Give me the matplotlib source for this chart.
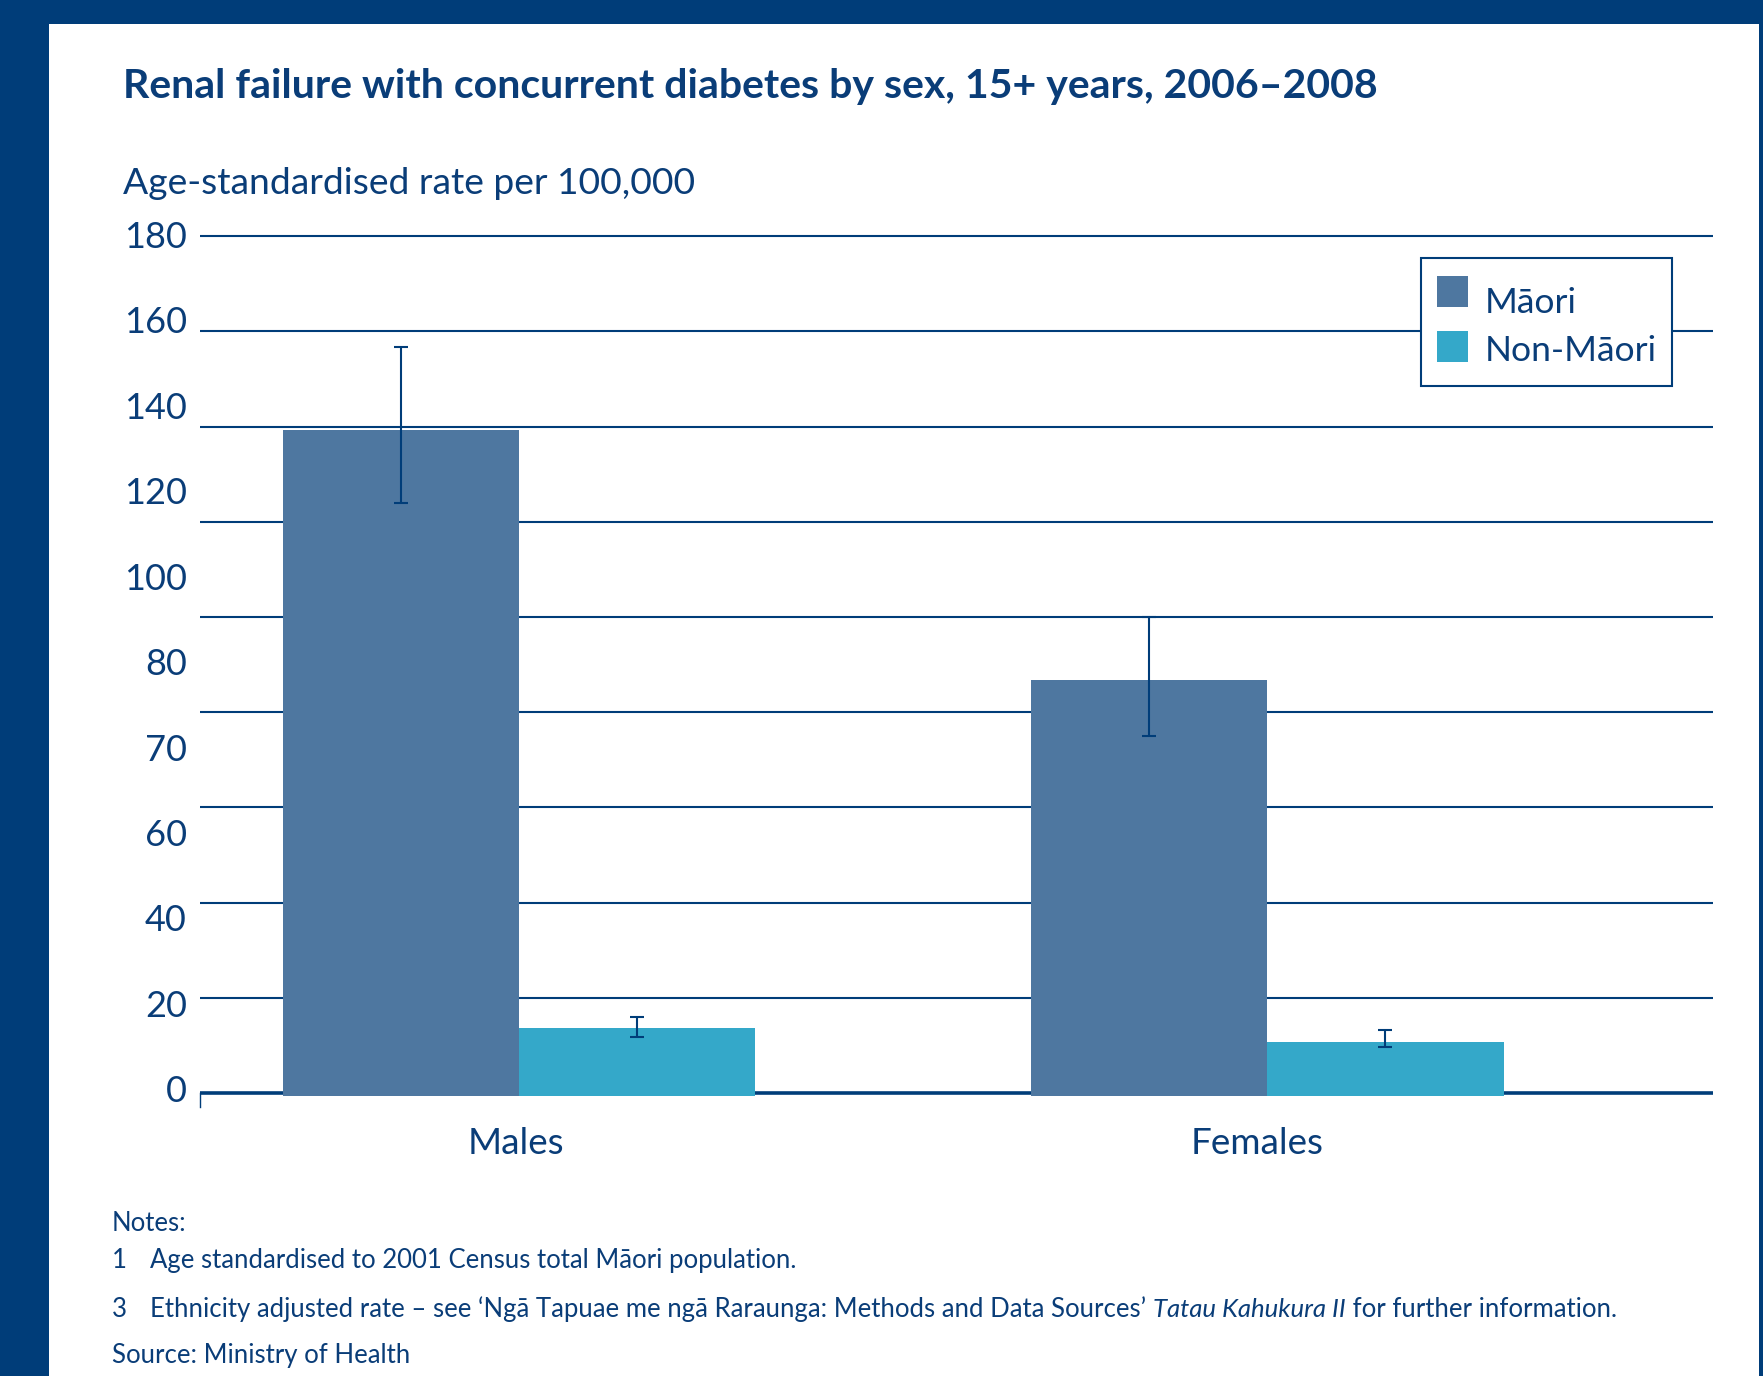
import numpy as np
import matplotlib.pyplot as plt
from matplotlib.patches import Rectangle

# data
groups = ["Males", "Females"]
maori = [139.3, 86.8]
maori_lo = [124.0, 75.1]
maori_hi = [156.7, 99.9]
non_maori = [13.7, 10.7]
non_maori_lo = [11.8, 9.7]
non_maori_hi = [16.0, 13.2]
grid_vals = [20, 40, 60, 80, 100, 120, 140, 160, 180]
ytick_text = ["0", "20", "40", "60", "70", "80", "100", "120", "140", "160", "180"]
series_names = ["Māori", "Non-Māori"]

navy = "#003d79"
txt = "#0a3d78"
c_maori = "#4e77a0"
c_non = "#34a8c9"

plt.rcParams['font.family'] = ['Lato', 'DejaVu Sans']

W, H = 1763, 1376
fig = plt.figure(figsize=(W/100, H/100), dpi=100)
fig.patch.set_facecolor(navy)
# white panel inside the navy frame
fig.patches.append(Rectangle((49/W, 0), (1759-49)/W, 1-24/H, transform=fig.transFigure,
                             facecolor="white", edgecolor="none", zorder=-5))

ax = fig.add_axes([200/W, 1-1107.3/H, (1713-200)/W, (1107.3-233.8)/H])
ax.set_facecolor("none")
ax.set_xlim(-0.4265, 1.596)
ax.set_ylim(-3, 180.5)

for g in grid_vals:
    ax.axhline(g, color=navy, lw=1.5, zorder=1)
ax.axhline(0, color=navy, lw=2.6, zorder=1)

x = np.arange(len(groups))
w = 0.316
m = np.array(maori)
n = np.array(non_maori)
ax.bar(x - w/2, m + 0.6, w, bottom=-0.6, color=c_maori, zorder=2)
ax.bar(x + w/2, n + 0.6, w, bottom=-0.6, color=c_non, zorder=2)
ax.errorbar(x - w/2, m, yerr=[m - np.array(maori_lo), np.array(maori_hi) - m],
            fmt="none", ecolor=navy, elinewidth=1.5, capsize=5, capthick=1.5, zorder=3)
ax.errorbar(x + w/2, n, yerr=[n - np.array(non_maori_lo), np.array(non_maori_hi) - n],
            fmt="none", ecolor=navy, elinewidth=1.5, capsize=5, capthick=1.5, zorder=3)

for s in ["top", "right", "bottom"]:
    ax.spines[s].set_visible(False)
ax.spines["left"].set_bounds(-3, 0)
ax.spines["left"].set_color(navy)
ax.spines["left"].set_linewidth(1.0)
ax.set_yticks([])
ax.set_xticks([])

# the tick labels are evenly spaced in the original, not on the gridlines
for pos, t in zip(np.linspace(0.25, 179.75, len(ytick_text)), ytick_text):
    ax.text(-0.4265 - 13/748, pos, t, ha="right", va="center", fontsize=26, color=txt)

for xi, g, off in zip(x, groups, [-0.004, -0.014]):
    ax.text(xi + off, -12.9, g, ha="center", va="baseline", fontsize=26.5, color=txt)

# legend box drawn by hand so the swatches and labels sit where they do in the original
fig.patches.append(Rectangle((1421/W, 1-386/H), 251/W, 128/H, transform=fig.transFigure,
                             facecolor="white", edgecolor=navy, lw=1.5, zorder=5))
for i, (name, col) in enumerate(zip(series_names, [c_maori, c_non])):
    top = 276 + 55*i
    fig.patches.append(Rectangle((1437/W, 1-(top+31)/H), 31/W, 31/H, transform=fig.transFigure,
                                 facecolor=col, edgecolor="none", zorder=6))
    fig.text(1485/W, 1-(313+48*i)/H, name, fontsize=25.5, color=txt, va="baseline", zorder=7)

fig.text(123/W, 1-98/H, "Renal failure with concurrent diabetes by sex, 15+ years, 2006\u20132008",
         fontsize=29.5, fontweight="bold", color=txt, va="baseline")
fig.text(123/W, 1-194/H, "Age-standardised rate per 100,000", fontsize=26.8, color=txt, va="baseline")

fs = 18.5
fig.text(112/W, 1-1231/H, "Notes:", fontsize=fs, color=txt, va="baseline")
fig.text(112/W, 1-1268/H, "1", fontsize=fs, color=txt, va="baseline")
fig.text(150/W, 1-1268/H, "Age standardised to 2001 Census total Māori population.",
         fontsize=fs, color=txt, va="baseline")
fig.text(112/W, 1-1317/H, "3", fontsize=fs, color=txt, va="baseline")
fig.text(112/W, 1-1363/H, "Source: Ministry of Health", fontsize=fs, color=txt, va="baseline")

# note 3 has an italic title in the middle, so lay it out piece by piece
pieces = [("Ethnicity adjusted rate \u2013 see \u2018Ngā Tapuae me ngā Raraunga: Methods and Data Sources\u2019 ", "normal"),
          ("Tatau Kahukura II", "italic"),
          (" for further information.", "normal")]
r = fig.canvas.get_renderer()
xpos = 150
for s, st in pieces:
    t = fig.text(xpos/W, 1-1317/H, s, fontsize=fs, color=txt, va="baseline", fontstyle=st)
    xpos += t.get_window_extent(renderer=r).width

fig.savefig("out.png", dpi=100, facecolor=fig.get_facecolor())
